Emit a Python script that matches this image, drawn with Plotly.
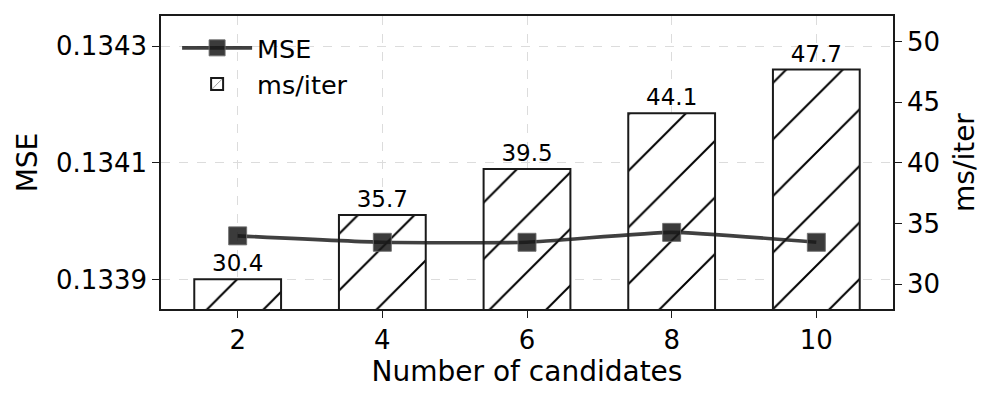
import plotly.graph_objects as go

candidates = [2, 4, 6, 8, 10]
mse_values = [0.133975, 0.133964, 0.133964, 0.133981, 0.133964]
ms_per_iter = [30.4, 35.7, 39.5, 44.1, 47.7]
bar_labels = ["30.4", "35.7", "39.5", "44.1", "47.7"]
mse_ticks = [0.1339, 0.1341, 0.1343]
mse_tick_labels = ["0.1339", "0.1341", "0.1343"]
ms_ticks = [30, 35, 40, 45, 50]

FONT = "DejaVu Sans"
INK = "#1a1a1a"

fig = go.Figure()

fig.add_trace(go.Scatter(
    x=candidates, y=mse_values, name="MSE", yaxis="y2",
    mode="lines+markers",
    line=dict(color="rgba(30,30,30,0.85)", width=3.6, shape="spline", smoothing=0.45),
    marker=dict(symbol="square", size=18, color="rgba(25,25,25,0.85)",
                line=dict(color="rgba(110,110,110,0.9)", width=1)),
))

fig.add_trace(go.Bar(
    x=candidates, y=ms_per_iter, name="ms/iter", yaxis="y",
    width=1.2,
    text=bar_labels, textposition="outside", cliponaxis=False,
    textfont=dict(family=FONT, size=23, color="black"),
    marker=dict(color="white", line=dict(color=INK, width=2),
                pattern=dict(shape="/", fgcolor="black", bgcolor="white", fgopacity=1,
                             size=40, solidity=0.05)),
))

axis_common = dict(
    showline=True, linecolor=INK, linewidth=1.5,
    ticks="outside", ticklen=7, tickwidth=1.4, tickcolor=INK,
    tickfont=dict(family=FONT, size=26, color="black"),
    zeroline=False, automargin=False,
)

# page body has an 8px margin: the figure is shrunk so the plot area lands where the reference has it
fig.update_layout(
    width=989, height=397,
    margin=dict(l=153, r=104, t=8, b=96),
    paper_bgcolor="white", plot_bgcolor="white",
    font=dict(family=FONT, color="black"),
    showlegend=True,
    legend=dict(x=0.022, y=0.97, xanchor="left", yanchor="top",
                bgcolor="rgba(0,0,0,0)", font=dict(family=FONT, size=25.5),
                tracegroupgap=4, itemwidth=70),
    xaxis=dict(
        **axis_common, mirror=True,
        range=[0.94, 11.06], tickvals=candidates,
        showgrid=True, gridcolor="#dcdcdc", griddash="dash", gridwidth=1.2,
        title=dict(text="Number of candidates", font=dict(family=FONT, size=28), standoff=3),
    ),
    yaxis=dict(
        **axis_common, side="right",
        range=[27.94, 52.12], tickvals=ms_ticks,
        showgrid=False,
        title=dict(text="ms/iter", font=dict(family=FONT, size=28), standoff=15),
    ),
    yaxis2=dict(
        **axis_common, side="left", overlaying="y",
        range=[0.1338498, 0.1343514], tickvals=mse_ticks, ticktext=mse_tick_labels,
        showgrid=True, gridcolor="#dcdcdc", griddash="dash", gridwidth=1.2,
        title=dict(text="MSE", font=dict(family=FONT, size=28), standoff=10),
    ),
)

fig.write_html("out.html")
